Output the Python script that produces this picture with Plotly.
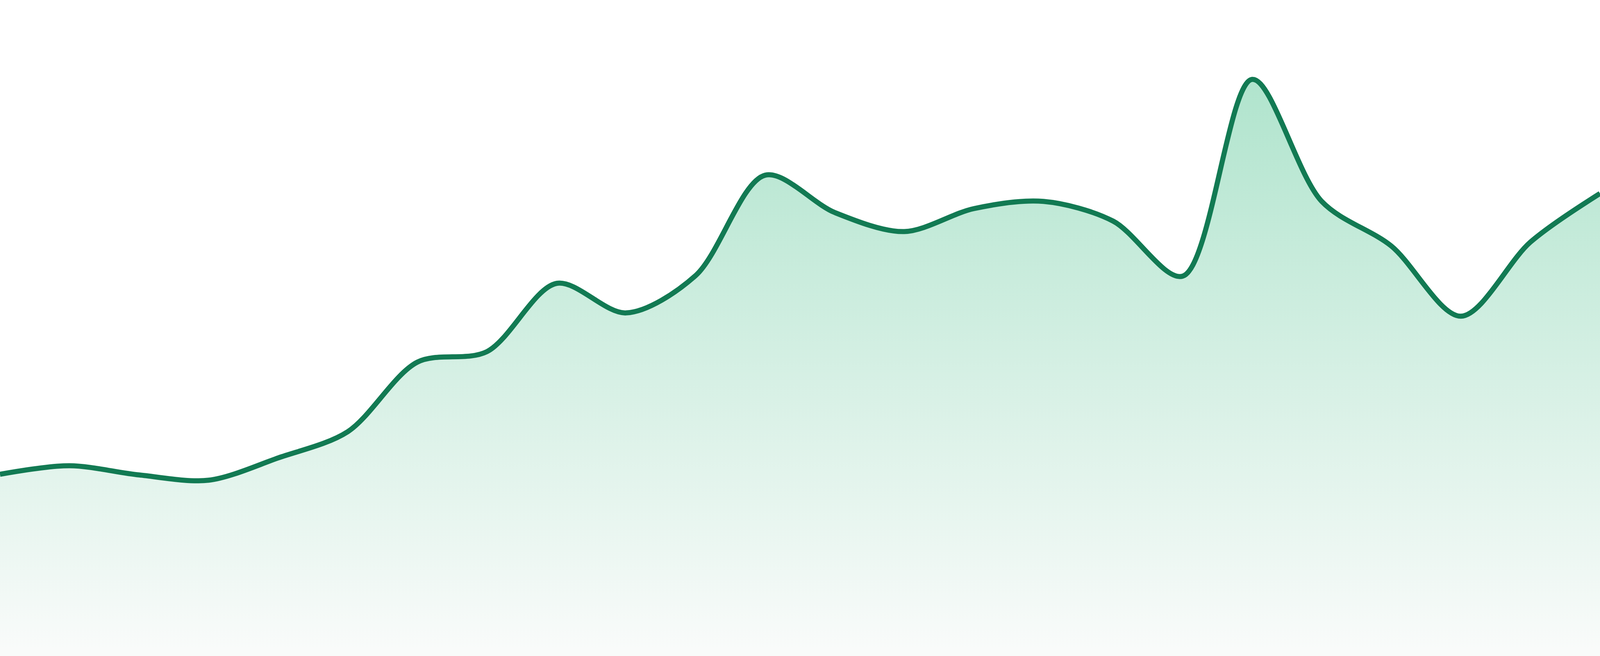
import plotly.graph_objects as go

# 24 evenly spaced samples (axis 0-100)
points = list(range(24))
values = [27.7, 29.0, 27.6, 26.8, 30.2, 34.2, 44.8, 46.4, 56.8, 52.3, 58.0, 73.3,
          67.6, 64.7, 68.2, 69.3, 66.3, 57.9, 87.9, 69.3, 62.5, 51.8, 63.1, 70.5]

LINE_COLOR = "#127a53"

fig = go.Figure()
fig.add_trace(go.Scatter(
    x=points,
    y=values,
    mode="lines",
    line=dict(color=LINE_COLOR, width=13, shape="spline", smoothing=0.9),
    fill="tozeroy",
    # fade from the highest point down to the baseline
    fillgradient=dict(
        type="vertical",
        start=0,
        stop=max(values),
        colorscale=[[0, "rgb(249,251,250)"], [1, "rgb(176,228,205)"]],
    ),
    hoverinfo="skip",
    showlegend=False,
))

fig.update_layout(
    autosize=True,
    margin=dict(l=0, r=0, t=0, b=0, pad=0),
    paper_bgcolor="white",
    plot_bgcolor="white",
    xaxis=dict(visible=False, range=[0, 23], fixedrange=True),
    yaxis=dict(visible=False, range=[0, 100], fixedrange=True),
)

# fill the whole browser window, whatever its css size is
fit_window = """
document.body.style.margin = '0';
document.body.style.overflow = 'hidden';
var gd = document.getElementById('{plot_id}');
Plotly.relayout(gd, {width: window.innerWidth, height: window.innerHeight});
"""

fig.write_html("out.html", config={"displayModeBar": False},
               post_script=fit_window)
